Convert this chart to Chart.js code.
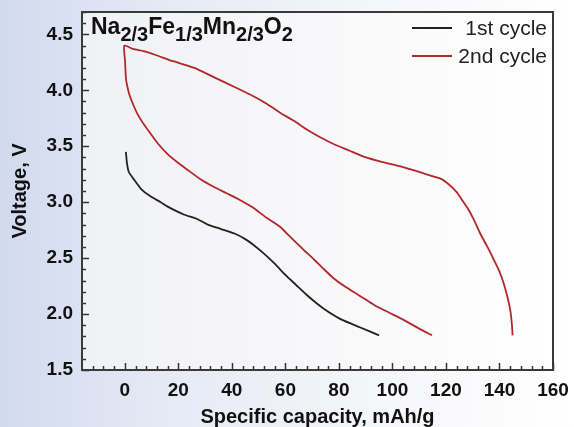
<!DOCTYPE html>
<html>
<head>
<meta charset="utf-8">
<script src="https://cdn.jsdelivr.net/npm/chart.js@4.4.0/dist/chart.umd.min.js"></script>
<style>
  html, body { margin: 0; padding: 0; }
  body {
    width: 574px; height: 427px; overflow: hidden;
    background: linear-gradient(to right, #d2daef 0%, #e6eaf5 30%, #f5f6f9 65%, #ffffff 100%);
  }
  #wrap { width: 574px; height: 427px; }
</style>
</head>
<body>
<div id="wrap"><canvas id="myChart"></canvas></div>
<script>
const labels = ["1st cycle", "2nd cycle"];
const colors = ["#222222", "#b3262a"];

const cycle1Capacity = [0.4, 0.8, 1.5, 3.5, 6, 9.7, 13.4, 16, 22, 27, 31, 36, 41, 45, 48, 52, 56, 60, 64, 68, 72, 76, 81, 88, 95];
const cycle1Voltage = [3.45, 3.35, 3.27, 3.2, 3.12, 3.05, 3.0, 2.96, 2.89, 2.85, 2.8, 2.76, 2.72, 2.67, 2.62, 2.54, 2.45, 2.35, 2.26, 2.17, 2.09, 2.02, 1.95, 1.88, 1.81];

const cycle2Capacity = [114.8, 110, 104, 99, 94, 90, 86, 82, 78, 74, 70.6, 67, 64.4, 61, 58, 53, 48, 43, 38, 33, 28, 23.4, 20, 16, 12.5, 9.7, 7, 4.7, 3, 1.6, 0.8, 0.4, 0.1, -0.2,
  3, 7, 11, 18, 26, 33, 41, 47, 53, 58, 63, 68, 73, 78, 84, 89, 96, 103, 110, 118, 121, 124, 126, 128.5, 130.5, 132.8, 135.5, 137.8, 140, 141.5, 143, 144, 144.6, 144.9];
const cycle2Voltage = [1.81, 1.87, 1.95, 2.01, 2.07, 2.13, 2.19, 2.25, 2.32, 2.41, 2.49, 2.57, 2.63, 2.71, 2.78, 2.86, 2.95, 3.02, 3.08, 3.14, 3.21, 3.29, 3.35, 3.43, 3.52, 3.61, 3.7, 3.79, 3.88, 3.97, 4.05, 4.11, 4.26, 4.4,
  4.37, 4.35, 4.32, 4.26, 4.2, 4.12, 4.03, 3.96, 3.88, 3.8, 3.73, 3.65, 3.58, 3.52, 3.46, 3.41, 3.36, 3.32, 3.27, 3.21, 3.16, 3.09, 3.02, 2.93, 2.84, 2.72, 2.6, 2.49, 2.38, 2.28, 2.15, 2.04, 1.92, 1.81];

const xMin = -16, xMax = 160, xMajor = 20, xMinor = 4;
const yMin = 1.5, yMax = 4.7, yMajor = 0.5, yMinor = 0.1;

const toPoints = (xs, ys) => xs.map((x, i) => ({ x: x, y: ys[i] }));

// frame, inward ticks, formula and legend drawn on the canvas
const decor = {
  id: "decor",
  beforeDraw(chart) {
    const { ctx, chartArea: a } = chart;
    const g = ctx.createLinearGradient(a.left, 0, a.right, 0);
    g.addColorStop(0, "#f0f1f4");
    g.addColorStop(1, "#ffffff");
    ctx.save();
    ctx.fillStyle = g;
    ctx.fillRect(a.left, a.top, a.right - a.left, a.bottom - a.top);
    ctx.restore();
  },
  afterDraw(chart) {
    const { ctx, chartArea: a, scales } = chart;
    const xs = scales.x, ys = scales.y;
    ctx.save();
    ctx.strokeStyle = "#333";
    ctx.lineWidth = 1.5;
    // x ticks
    for (let v = -12; v <= xMax + 0.001; v += xMinor) {
      const px = Math.round(xs.getPixelForValue(v)) + 0.5;
      const major = Math.abs(v % xMajor) < 0.001;
      ctx.beginPath();
      ctx.moveTo(px, a.bottom);
      ctx.lineTo(px, a.bottom - (major ? 7 : 4));
      ctx.stroke();
    }
    // y ticks
    for (let i = 0; i <= Math.round((yMax - yMin) / yMinor); i++) {
      const v = yMin + i * yMinor;
      const py = Math.round(ys.getPixelForValue(v)) + 0.5;
      const major = i % 5 === 0;
      ctx.beginPath();
      ctx.moveTo(a.left, py);
      ctx.lineTo(a.left + (major ? 7 : 4), py);
      ctx.stroke();
    }
    // frame
    ctx.lineWidth = 2;
    ctx.strokeStyle = "#3a3a3a";
    ctx.strokeRect(a.left, a.top, a.right - a.left, a.bottom - a.top);

    // formula
    ctx.fillStyle = "#111";
    ctx.textBaseline = "alphabetic";
    ctx.textAlign = "left";
    const parts = [["Na", 0], ["2/3", 1], ["Fe", 0], ["1/3", 1], ["Mn", 0], ["2/3", 1], ["O", 0], ["2", 1]];
    let x = a.left + 9;
    parts.forEach(([t, sub]) => {
      ctx.font = sub ? "bold 20px 'Liberation Sans', Arial" : "bold 23px 'Liberation Sans', Arial";
      ctx.fillText(t, x, sub ? a.top + 29 : a.top + 22);
      x += ctx.measureText(t).width;
    });

    // legend
    ctx.font = "21px 'Liberation Sans', Arial";
    ctx.textAlign = "right";
    ctx.textBaseline = "middle";
    labels.forEach((l, i) => {
      const y = a.top + 16 + i * 28;
      ctx.strokeStyle = colors[i];
      ctx.lineWidth = 1.8;
      ctx.beginPath();
      ctx.moveTo(a.right - 141, y);
      ctx.lineTo(a.right - 101, y);
      ctx.stroke();
      ctx.fillStyle = "#222";
      ctx.fillText(l, a.right - 6, y + 1);
    });
    ctx.restore();
  }
};

const tickFont = { family: "'Liberation Sans', Arial", size: 19, weight: "bold" };
const titleFont = { family: "'Liberation Sans', Arial", size: 20, weight: "bold", lineHeight: 1 };

const noPad = s => { s.paddingTop = 0; s.paddingBottom = 0; s.paddingLeft = 0; s.paddingRight = 0; };

new Chart(document.getElementById("myChart"), {
  type: "scatter",
  data: {
    datasets: [
      {
        label: labels[0],
        data: toPoints(cycle1Capacity, cycle1Voltage),
        borderColor: colors[0],
        borderWidth: 1.8,
        showLine: true,
        pointRadius: 0,
        tension: 0.2
      },
      {
        label: labels[1],
        data: toPoints(cycle2Capacity, cycle2Voltage),
        borderColor: colors[1],
        borderWidth: 1.8,
        showLine: true,
        pointRadius: 0,
        tension: 0.2
      }
    ]
  },
  options: {
    responsive: true,
    maintainAspectRatio: false,
    animation: false,
    layout: { padding: { left: 5, top: 12, right: 21, bottom: 0 } },
    plugins: { legend: { display: false }, tooltip: { enabled: false } },
    scales: {
      x: {
        type: "linear",
        min: xMin,
        max: xMax,
        afterBuildTicks: s => { s.ticks = [0, 20, 40, 60, 80, 100, 120, 140, 160].map(v => ({ value: v })); },
        afterFit: s => { s.height = 57; noPad(s); },
        grid: { display: false, drawTicks: false },
        border: { display: false },
        ticks: { font: tickFont, color: "#111", padding: 9, maxRotation: 0 },
        title: { display: true, text: "Specific capacity, mAh/g", font: titleFont, color: "#111", padding: { top: 0, bottom: 0 } }
      },
      y: {
        type: "linear",
        min: yMin,
        max: yMax,
        afterBuildTicks: s => { s.ticks = [1.5, 2.0, 2.5, 3.0, 3.5, 4.0, 4.5].map(v => ({ value: v })); },
        afterFit: s => { s.width = 77; noPad(s); },
        grid: { display: false, drawTicks: false },
        border: { display: false },
        ticks: { font: tickFont, color: "#111", padding: 9, callback: v => v.toFixed(1) },
        title: { display: true, text: "Voltage, V", font: titleFont, color: "#111", padding: { top: 5, bottom: 0 } }
      }
    }
  },
  plugins: [decor]
});
</script>
</body>
</html>
